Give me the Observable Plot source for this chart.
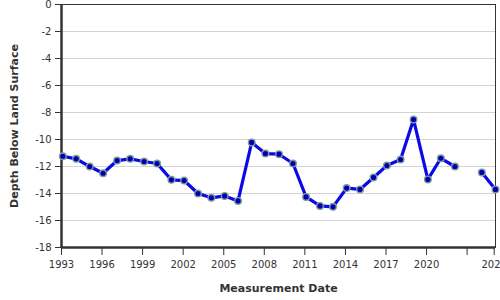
<!DOCTYPE html>
<html>
<head>
<meta charset="utf-8">
<script src="https://cdn.jsdelivr.net/npm/d3@7"></script>
<script src="https://cdn.jsdelivr.net/npm/@observablehq/plot@0.6"></script>
<style>
  html, body { margin: 0; padding: 0; background: #fff; }
  #chart svg { display: block; }
</style>
</head>
<body>
<div id="chart"></div>
<script>
const dates = [
  "1993-02-05","1994-02-01","1995-02-03","1996-01-30","1997-02-12","1998-01-30",
  "1999-02-10","2000-01-26","2001-02-17","2002-01-26","2003-02-06","2004-02-02",
  "2005-01-26","2006-01-22","2007-01-26","2008-01-30","2009-02-03","2010-02-14",
  "2011-02-03","2012-02-14","2013-01-30","2014-02-03","2015-01-30","2016-01-30",
  "2017-01-26","2018-01-30","2019-01-15","2020-02-06","2021-01-22","2022-02-06",
  "2023-02-01","2024-02-03","2025-02-06"
];
// Depth below land surface (ft); null = no measurement (gap in line)
const depths = [
  -11.24, -11.43, -12.0, -12.5, -11.56, -11.43,
  -11.63, -11.78, -12.99, -13.04, -14.0, -14.32,
  -14.18, -14.55, -10.22, -11.04, -11.09, -11.78,
  -14.25, -14.92, -14.99, -13.6, -13.7, -12.81,
  -11.93, -11.48, -8.52, -12.96, -11.39, -12.0,
  null, -12.44, -13.7
];
const xTickYears = [1993, 1996, 1999, 2002, 2005, 2008, 2011, 2014, 2017, 2020, 2023, 2025];
const xHiddenLabels = [2023];
const yTicks = [0, -2, -4, -6, -8, -10, -12, -14, -16, -18];
const yDomain = [-18, 0];
const xStart = "1993-01-01";
const xLabel = "Measurement Date";
const yLabel = "Depth Below Land Surface";

const data = dates.map((d, i) => ({date: new Date(d + "T00:00:00Z"), depth: depths[i]}));
const xDomain = [new Date(xStart + "T00:00:00Z"), data[data.length - 1].date];
const xTicks = xTickYears.map(y => new Date(Date.UTC(y, 0, 1)));

const font = "DejaVu Sans, Verdana, sans-serif";

const chart = Plot.plot({
  width: 500,
  height: 300,
  marginLeft: 61,
  marginRight: 5,
  marginTop: 4,
  marginBottom: 53,
  style: {fontFamily: font, fontSize: "10px", color: "#333", background: "#fff"},
  x: {type: "utc", domain: xDomain},
  y: {domain: yDomain},
  marks: [
    Plot.gridY(yTicks, {stroke: "#d4d4d4", strokeOpacity: 1, strokeWidth: 1}),
    Plot.frame({stroke: "#333", strokeWidth: 1}),
    Plot.ruleY([yDomain[0]], {stroke: "#333", strokeWidth: 2.5}),
    Plot.ruleX([xDomain[0]], {stroke: "#333", strokeWidth: 2.5}),
    Plot.axisY({
      ticks: yTicks, tickSize: 6, tickPadding: 4, label: null,
      stroke: "#333", fill: "#333", fontSize: 10,
      tickFormat: d => String(d)
    }),
    Plot.axisX({
      ticks: xTicks, tickSize: 8, tickPadding: 5, label: null,
      stroke: "#333", fill: "#333", fontSize: 10,
      tickFormat: d => xHiddenLabels.includes(d.getUTCFullYear()) ? "" : String(d.getUTCFullYear())
    }),
    Plot.line(data, {x: "date", y: "depth", stroke: "#0a0ae6", strokeWidth: 3.2, curve: "linear"}),
    Plot.dot(data.filter(d => d.depth != null), {
      x: "date", y: "depth", r: 3.3, fill: "#0000b0", stroke: "#7f9c9c", strokeWidth: 1.4
    }),
    Plot.text([xLabel], {
      frameAnchor: "bottom", dy: 41, text: d => d, fontWeight: "bold",
      fontSize: 11, fill: "#333", lineAnchor: "middle", textAnchor: "middle"
    }),
    Plot.text([yLabel], {
      frameAnchor: "left", dx: -47, rotate: -90, text: d => d, fontWeight: "bold",
      fontSize: 11, fill: "#333", lineAnchor: "middle", textAnchor: "middle"
    })
  ]
});

document.getElementById("chart").appendChild(chart);
</script>
</body>
</html>
